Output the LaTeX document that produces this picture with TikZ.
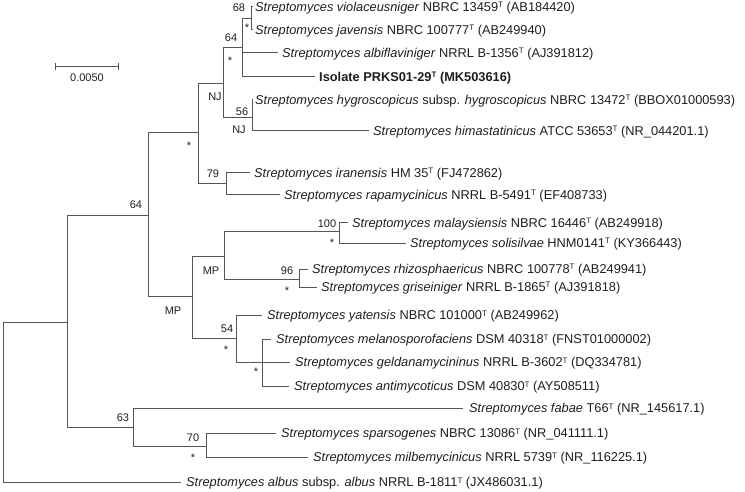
\documentclass[tikz,border=0pt]{standalone}
\usepackage{fontspec}
\setmainfont{Liberation Sans}
\definecolor{linec}{HTML}{555555}
\definecolor{txtc}{HTML}{1E1E1E}
\newcommand{\supT}{\raisebox{3.6pt}{\fontsize{8}{8}\selectfont T}}
\begin{document}
\begin{tikzpicture}[x=1pt,y=-1pt,
  br/.style={draw=linec, line width=1pt},
  leaf/.style={anchor=west, inner sep=0pt, text height=9.2pt, text depth=0pt,
    font=\fontsize{12.8}{14}\selectfont, text=txtc},
  supp/.style={font=\fontsize{11}{12}\selectfont, inner sep=0pt, text=txtc,
    text height=8pt, text depth=0pt},
  ast/.style={supp, yshift=-2.5pt}]
\useasboundingbox (0,0) rectangle (745,492);

% internal nodes (x of vertical line, y of incoming branch)
\coordinate (A) at (251,19);
\coordinate (B) at (242,48);
\coordinate (C) at (223,84);
\coordinate (D) at (252,118);
\coordinate (E) at (198,133);
\coordinate (F) at (226,184);
\coordinate (G) at (148,216);
\coordinate (H) at (67,322);
\coordinate (I) at (192,296);
\coordinate (J) at (224,256);
\coordinate (K) at (339,232);
\coordinate (L) at (299,279);
\coordinate (M) at (236,338);
\coordinate (N) at (262,362);
\coordinate (O) at (133,427);
\coordinate (P) at (206,446);
\coordinate (R) at (3,400);

% tips
\coordinate (t1) at (253,7);
\coordinate (t2) at (253,30);
\coordinate (t3) at (278,53);
\coordinate (t4) at (315,77);
\coordinate (t5) at (253,100);
\coordinate (t6) at (369,131);
\coordinate (t7) at (250,173);
\coordinate (t8) at (280,195);
\coordinate (t9) at (348,223);
\coordinate (t10) at (406,243);
\coordinate (t11) at (308,269);
\coordinate (t12) at (317,287);
\coordinate (t13) at (262,315);
\coordinate (t14) at (271,339);
\coordinate (t15) at (290,362);
\coordinate (t16) at (289,386);
\coordinate (t17) at (463,408);
\coordinate (t18) at (276,433);
\coordinate (t19) at (308,457);
\coordinate (t20) at (181,482);

% branches
\draw[br] (A |- t1) -- (A |- t2) (A |- t1) -- (t1) (A |- t2) -- (t2);
\draw[br] (B |- A) -- (B |- t4) (B |- A) -- (A) (B |- t3) -- (t3) (B |- t4) -- (t4);
\draw[br] (C |- B) -- (C |- D) (C |- B) -- (B) (C |- D) -- (D);
\draw[br] (D |- t5) -- (D |- t6) (D |- t5) -- (t5) (D |- t6) -- (t6);
\draw[br] (E |- C) -- (E |- F) (E |- C) -- (C) (E |- F) -- (F);
\draw[br] (F |- t7) -- (F |- t8) (F |- t7) -- (t7) (F |- t8) -- (t8);
\draw[br] (G |- E) -- (G |- I) (G |- E) -- (E) (G |- I) -- (I);
\draw[br] (I |- J) -- (I |- M) (I |- J) -- (J) (I |- M) -- (M);
\draw[br] (J |- K) -- (J |- L) (J |- K) -- (K) (J |- L) -- (L);
\draw[br] (K |- t9) -- (K |- t10) (K |- t9) -- (t9) (K |- t10) -- (t10);
\draw[br] (L |- t11) -- (L |- t12) (L |- t11) -- (t11) (L |- t12) -- (t12);
\draw[br] (M |- t13) -- (M |- N) (M |- t13) -- (t13) (M |- N) -- (N);
\draw[br] (N |- t14) -- (N |- t16) (N |- t14) -- (t14) (N |- t15) -- (t15) (N |- t16) -- (t16);
\draw[br] (H |- G) -- (H |- O) (H |- G) -- (G) (H |- O) -- (O);
\draw[br] (O |- t17) -- (O |- P) (O |- t17) -- (t17) (O |- P) -- (P);
\draw[br] (P |- t18) -- (P |- t19) (P |- t18) -- (t18) (P |- t19) -- (t19);
\draw[br] (R |- H) -- (R |- t20) (R |- H) -- (H) (R |- t20) -- (t20);

% leaf labels
\node[leaf] (n1) at ([xshift=2pt]t1) {\textit{Streptomyces violaceusniger} NBRC 13459\supT{} (AB184420)};
\node[leaf] (n2) at ([xshift=2pt]t2) {\textit{Streptomyces javensis} NBRC 100777\supT{} (AB249940)};
\node[leaf] (n3) at ([xshift=4pt]t3) {\textit{Streptomyces albiflaviniger} NRRL B-1356\supT{} (AJ391812)};
\node[leaf] (n4) at ([xshift=4pt]t4) {\textbf{Isolate PRKS01-29\supT{} (MK503616)}};
\node[leaf] (n5) at ([xshift=2pt]t5) {\textit{Streptomyces hygroscopicus} subsp. \textit{hygroscopicus} NBRC 13472\supT{} (BBOX01000593)};
\node[leaf] (n6) at ([xshift=4pt]t6) {\textit{Streptomyces himastatinicus} ATCC 53653\supT{} (NR\_044201.1)};
\node[leaf] (n7) at ([xshift=4pt]t7) {\textit{Streptomyces iranensis} HM 35\supT{} (FJ472862)};
\node[leaf] (n8) at ([xshift=4pt]t8) {\textit{Streptomyces rapamycinicus} NRRL B-5491\supT{} (EF408733)};
\node[leaf] (n9) at ([xshift=4pt]t9) {\textit{Streptomyces malaysiensis} NBRC 16446\supT{} (AB249918)};
\node[leaf] (n10) at ([xshift=4pt]t10) {\textit{Streptomyces solisilvae} HNM0141\supT{} (KY366443)};
\node[leaf] (n11) at ([xshift=4pt]t11) {\textit{Streptomyces rhizosphaericus} NBRC 100778\supT{} (AB249941)};
\node[leaf] (n12) at ([xshift=4pt]t12) {\textit{Streptomyces griseiniger} NRRL B-1865\supT{} (AJ391818)};
\node[leaf] (n13) at ([xshift=5pt]t13) {\textit{Streptomyces yatensis} NBRC 101000\supT{} (AB249962)};
\node[leaf] (n14) at ([xshift=5pt]t14) {\textit{Streptomyces melanosporofaciens} DSM 40318\supT{} (FNST01000002)};
\node[leaf] (n15) at ([xshift=5pt]t15) {\textit{Streptomyces geldanamycininus} NRRL B-3602\supT{} (DQ334781)};
\node[leaf] (n16) at ([xshift=5pt]t16) {\textit{Streptomyces antimycoticus} DSM 40830\supT{} (AY508511)};
\node[leaf] (n17) at ([xshift=6pt]t17) {\textit{Streptomyces fabae} T66\supT{} (NR\_145617.1)};
\node[leaf] (n18) at ([xshift=5pt]t18) {\textit{Streptomyces sparsogenes} NBRC 13086\supT{} (NR\_041111.1)};
\node[leaf] (n19) at ([xshift=5pt]t19) {\textit{Streptomyces milbemycinicus} NRRL 5739\supT{} (NR\_116225.1)};
\node[leaf] (n20) at ([xshift=5pt]t20) {\textit{Streptomyces albus} subsp. \textit{albus} NRRL B-1811\supT{} (JX486031.1)};

% support values
\node[supp] (bA) at (239,8) {68};
\node[ast]  (sA) at (247,25) {*};
\node[supp] (bB) at (231,38) {64};
\node[ast]  (sB) at (230,58) {*};
\node[supp] (sC) at (215,97) {NJ};
\node[supp] (bD) at (242,112) {56};
\node[supp] (sD) at (239,130) {NJ};
\node[ast]  (sE) at (189,143) {*};
\node[supp] (bF) at (213,174) {79};
\node[supp] (bG) at (136,205) {64};
\node[supp] (bK) at (327,223) {100};
\node[ast]  (sK) at (332,240) {*};
\node[supp] (sJ) at (211,270) {MP};
\node[supp] (bL) at (287,270) {96};
\node[ast]  (sL) at (287,288) {*};
\node[supp] (sI) at (173,310) {MP};
\node[supp] (bM) at (227,328) {54};
\node[ast]  (sM) at (226,347) {*};
\node[ast]  (sN) at (256,369) {*};
\node[supp] (bO) at (123,417) {63};
\node[supp] (bP) at (193,437) {70};
\node[ast]  (sP) at (193,455) {*};

% scale bar
\coordinate (s1) at (55,67);
\coordinate (s2) at (118,67);
\draw[br] (s1) -- (s2);
\draw[br] ([yshift=3.5pt]s1) -- ([yshift=-3.5pt]s1);
\draw[br] ([yshift=3.5pt]s2) -- ([yshift=-3.5pt]s2);
\node[supp] (sl) at (87,78) {0.0050};
\end{tikzpicture}
\end{document}
